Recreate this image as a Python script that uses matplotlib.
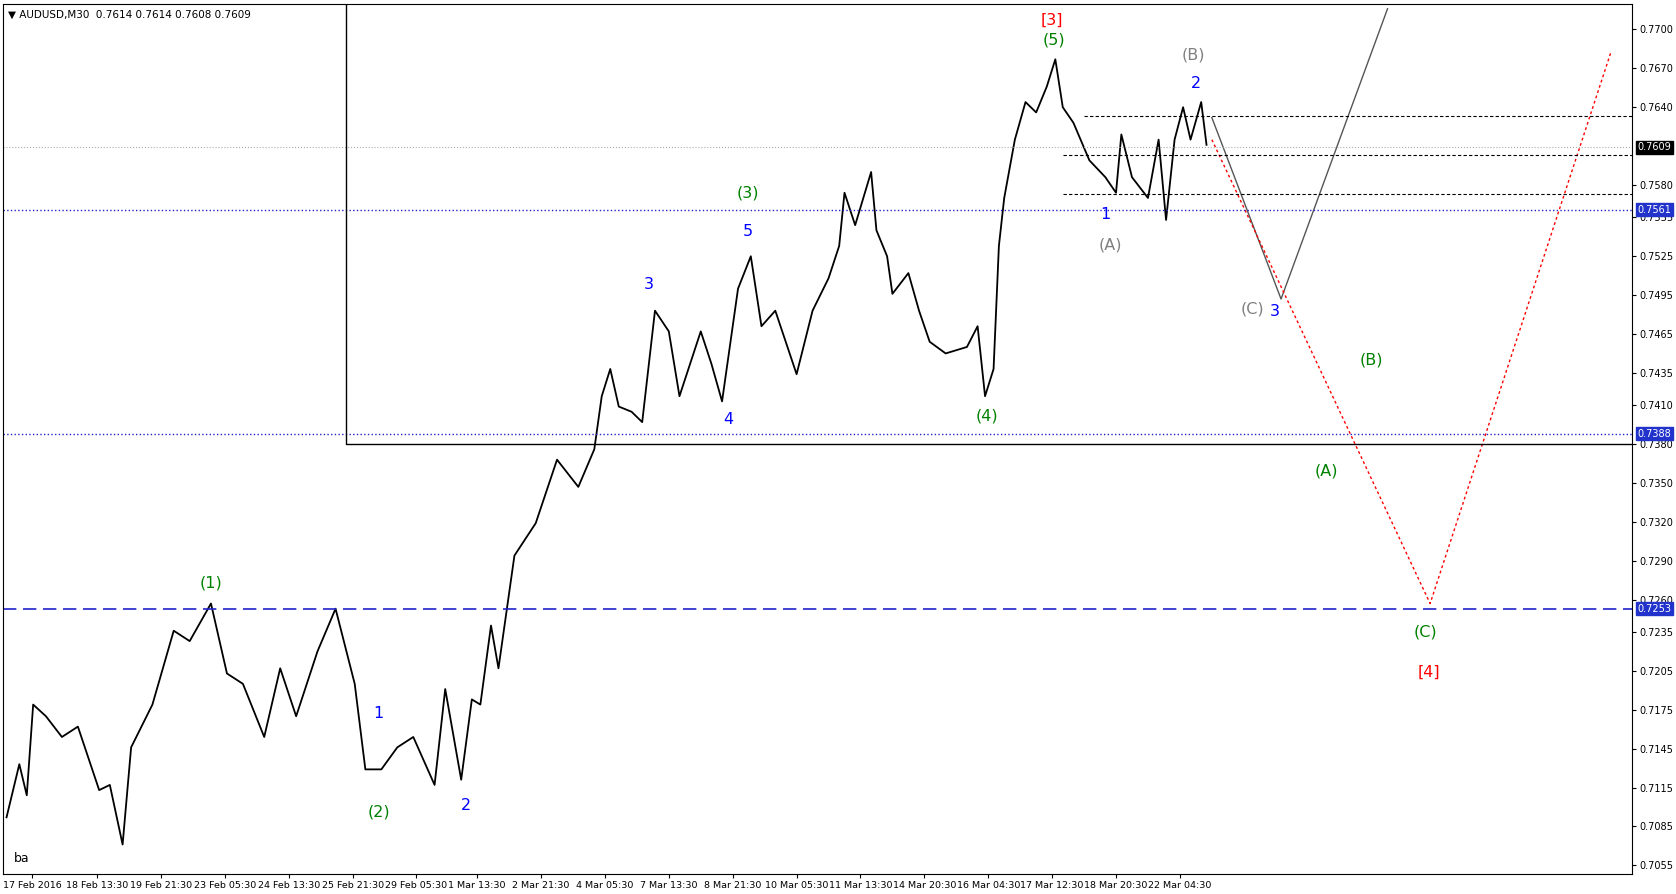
import matplotlib
matplotlib.use("Agg")
import matplotlib.pyplot as plt

def P(y):  # pixel row of the reference -> price
    return round(0.7700 - (y - 27) * 0.0645 / 783, 4)

# price swing path (x = chart position, price)
px = [3,15,22,28,40,55,70,90,100,112,120,140,160,175,195,210,225,245,260,275,295,312,330,340,355,370,385,405,415,430,440,448,458,465,480,500,520,540,555,562,570,578,590,600,612,625,635,655,665,675,690,702,712,725,745,760,775,785,790,800,815,820,830,835,850,860,870,885,905,915,922,930,935,940,950,960,970,980,988,995,1005,1020,1035,1045,1050,1060,1075,1085,1092,1100,1108,1115,1125,1130]
py_pix = [765,715,745,660,670,690,680,740,735,790,700,660,590,600,565,630,640,690,625,670,610,570,640,720,720,700,690,735,645,730,655,660,585,625,520,490,430,455,420,370,345,380,385,395,290,310,370,310,340,375,270,240,305,290,350,290,260,230,180,210,160,215,240,275,255,290,320,330,325,305,370,345,230,185,130,95,105,80,55,100,115,150,165,180,125,165,185,130,205,130,100,130,95,135]
prices = [P(v) for v in py_pix]

gray_x = [1135,1200,1300]; gray_p = [P(110),P(280),P(8)]
red_x = [1135,1340,1510]; red_p = [P(130),P(565),P(48)]

yticks = [0.7700,0.7670,0.7640,0.7580,0.7555,0.7525,0.7495,0.7465,0.7435,0.7410,0.7380,0.7350,0.7320,0.7290,0.7260,0.7235,0.7205,0.7175,0.7145,0.7115,0.7085,0.7055]
xtick_pos = [27,88,148,208,268,328,388,445,505,565,625,685,745,805,865,925,985,1045,1105]
xtick_lab = ["17 Feb 2016","18 Feb 13:30","19 Feb 21:30","23 Feb 05:30","24 Feb 13:30","25 Feb 21:30","29 Feb 05:30","1 Mar 13:30","2 Mar 21:30","4 Mar 05:30","7 Mar 13:30","8 Mar 21:30","10 Mar 05:30","11 Mar 13:30","14 Mar 20:30","16 Mar 04:30","17 Mar 12:30","18 Mar 20:30","22 Mar 04:30"]

fig = plt.figure(figsize=(16.76, 8.94), dpi=100)
ax = fig.add_axes([0.002, 0.022, 0.972, 0.974])
ax.set_xlim(0, 1530)
ax.set_ylim(P(818), P(3))

ax.plot(px, prices, color="black", lw=1.3)
ax.plot(gray_x, gray_p, color="#555555", lw=1)
ax.plot(red_x, red_p, color="red", lw=1, ls=(0, (2, 2)))

ax.axhline(0.7609, color="#aaaaaa", lw=0.8, ls=":")
ax.axhline(0.7561, color="#2222cc", lw=1, ls=":")
ax.axhline(0.7388, color="#2222cc", lw=1, ls=":")
ax.axhline(0.7253, color="#2222cc", lw=1.2, ls=(0, (8, 4)))
for x0, yp in [(1015,108),(995,145),(995,181)]:
    ax.plot([x0,1530],[P(yp),P(yp)], color="black", lw=0.8, ls=(0,(3,2)))
ax.plot([322,322,1530],[P(3),P(415),P(415)], color="black", lw=1)

labels = [
    (985,18,"[3]","red"),(987,37,"(5)","green"),(1118,51,"(B)","gray"),(1120,78,"2","blue"),
    (699,180,"(3)","green"),(699,216,"5","blue"),(606,266,"3","blue"),(1035,200,"1","blue"),
    (1040,228,"(A)","gray"),(1173,289,"(C)","gray"),(1194,292,"3","blue"),(1285,337,"(B)","green"),
    (681,393,"4","blue"),(924,389,"(4)","green"),(1243,441,"(A)","green"),(195,545,"(1)","green"),
    (1336,591,"(C)","green"),(1339,629,"[4]","red"),(352,668,"1","blue"),(353,760,"(2)","green"),
    (434,754,"2","blue"),
]
for x, y, t, c in labels:
    ax.text(x, P(y), t, color=c, fontsize=11.5, ha="center", va="center")
ax.text(10, P(804), "ba", fontsize=9, va="center")
ax.text(0.003, 0.993, "▼ AUDUSD,M30  0.7614 0.7614 0.7608 0.7609", transform=ax.transAxes,
        fontsize=7.5, va="top")

ax.yaxis.tick_right()
ax.set_yticks(yticks)
ax.set_yticklabels([f"{v:.4f}" for v in yticks], fontsize=7)
ax.set_xticks(xtick_pos)
ax.set_xticklabels(xtick_lab, fontsize=6.8)
ax.tick_params(length=3, pad=2)
for v, fc in [(0.7609,"black"),(0.7561,"#2233cc"),(0.7388,"#2233cc"),(0.7253,"#2233cc")]:
    ax.text(1.003, v, f"{v:.4f}", transform=ax.get_yaxis_transform(), color="white",
            fontsize=7, va="center", ha="left",
            bbox=dict(boxstyle="square,pad=0.15", fc=fc, ec=fc))
fig.savefig("out.png", dpi=100)
